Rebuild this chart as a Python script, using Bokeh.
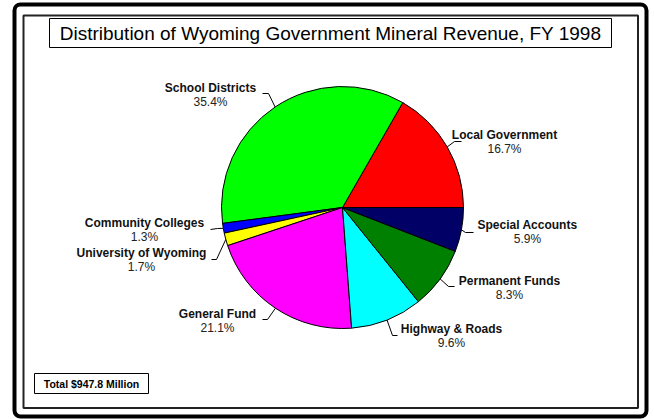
import numpy as np
from bokeh.plotting import figure
from bokeh.models import Range1d, ColumnDataSource
from bokeh.embed import file_html
from bokeh.resources import INLINE
from bokeh.core.properties import value

# ---------------- data ----------------
categories = ["Local Government", "School Districts", "Community Colleges",
              "University of Wyoming", "General Fund", "Highway & Roads",
              "Permanent Funds", "Special Accounts"]
shares = [16.7, 35.4, 1.3, 1.7, 21.1, 9.6, 8.3, 5.9]
colors = ["#FF0000", "#00FF00", "#0000FF", "#FFFF00", "#FF00FF", "#00FFFF",
          "#008000", "#000066"]
title_text = "Distribution of Wyoming Government Mineral Revenue, FY 1998"
total_text = "Total $947.8 Million"

# ---------------- layout (page-pixel style coords, y downward) ----------------
CX, CY, R = 342, 207, 121
# label centre x, name centre y, elbow point, end point of leader
label_layout = {
    "Local Government":      (504, 134, (454, 141), (461, 141)),
    "School Districts":      (210, 87,  (268, 93),  (262, 93)),
    "Community Colleges":    (144, 222, (217, 228), (210, 229)),
    "University of Wyoming": (141, 252, (216, 259), (211, 259)),
    "General Fund":          (217, 313, (267, 319), (262, 319)),
    "Highway & Roads":       (451, 328, (392, 335), (397, 335)),
    "Permanent Funds":       (509, 280, (448, 286), (454, 286)),
    "Special Accounts":      (527, 224, (465, 232), (473, 232)),
}

W, H = 654, 419
p = figure(width=W, height=H, output_backend="svg", toolbar_location=None,
           x_range=Range1d(0, W), y_range=Range1d(-H, 0),
           x_axis_location=None, y_axis_location=None, min_border=0)
p.grid.visible = False
p.outline_line_color = None
p.background_fill_color = "white"
p.border_fill_color = "white"

# borders
p.quad(left=14, right=646, top=-4, bottom=-416, fill_color=None,
       line_color="black", line_width=4, border_radius=6)
p.quad(left=23, right=637.5, top=-15, bottom=-407.5, fill_color=None,
       line_color="#222222", line_width=2)

# title box
p.quad(left=49, right=611, top=-18, bottom=-47, fill_color="white",
       line_color="black", line_width=1)
p.text(x=[330], y=[-33], text=[title_text], text_align="center",
       text_baseline="middle", text_font=value("Liberation Sans"),
       text_font_size="19px", text_color="black")

# total box
p.quad(left=34, right=148, top=-373, bottom=-393, fill_color="white",
       line_color="black", line_width=1)
p.text(x=[91], y=[-383.5], text=[total_text], text_align="center",
       text_baseline="middle", text_font=value("Liberation Sans"),
       text_font_style="bold", text_font_size="10.5px", text_color="black")

# pie wedges
vals = np.array(shares)
cum = np.concatenate([[0], np.cumsum(vals)])
start = 2 * np.pi * cum[:-1] / cum[-1]
end = 2 * np.pi * cum[1:] / cum[-1]
src = ColumnDataSource(dict(start=start, end=end, color=colors, cat=categories))
p.wedge(x=CX, y=-CY, radius=R, radius_units="screen", start_angle="start",
        end_angle="end", direction="anticlock", fill_color="color",
        line_color="black", line_width=1, source=src)

# labels and leaders
xs, ys = [], []
nx, ny, nt, px_, py_, pt = [], [], [], [], [], []
for cat, s, e, v in zip(categories, start, end, shares):
    lx, ly, elbow, endp = label_layout[cat]
    mid = (s + e) / 2
    ex, ey = CX + R * np.cos(mid), CY - R * np.sin(mid)
    xs.append([ex, elbow[0], endp[0]])
    ys.append([-ey, -elbow[1], -endp[1]])
    nx.append(lx); ny.append(-ly); nt.append(cat)
    px_.append(lx); py_.append(-(ly + 14.5)); pt.append(f"{v:.1f}%")

p.multi_line(xs=xs, ys=ys, line_color="black", line_width=1)
p.text(x=nx, y=ny, text=nt, text_align="center", text_baseline="middle",
       text_font=value("Liberation Sans"), text_font_style="bold",
       text_font_size="12px", text_color="#111111")
p.text(x=px_, y=py_, text=pt, text_align="center", text_baseline="middle",
       text_font=value("Liberation Sans"), text_font_size="12px",
       text_color="#222222")

open("out.html", "w").write(file_html(p, INLINE))
